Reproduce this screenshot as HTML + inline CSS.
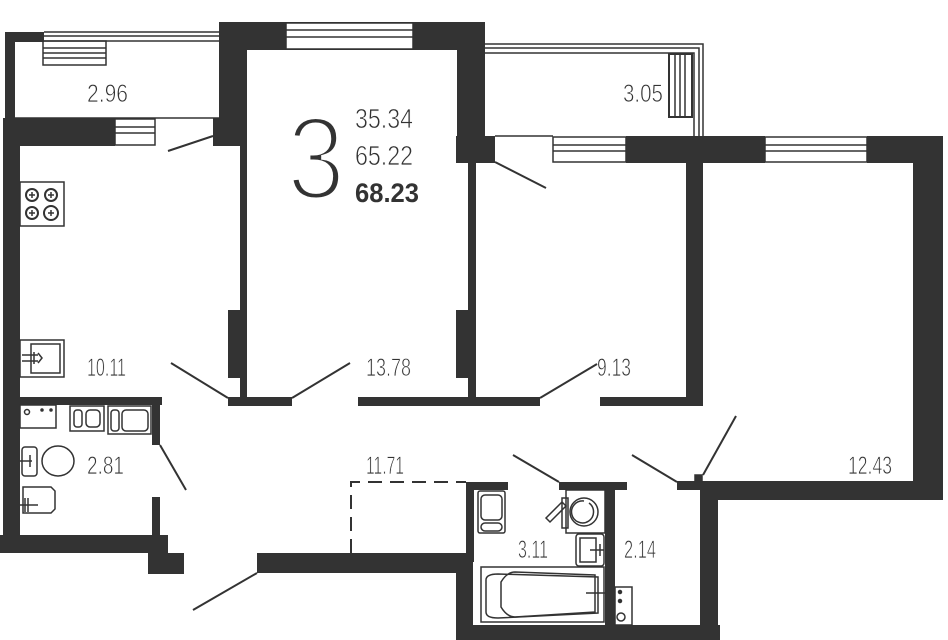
<!DOCTYPE html>
<html><head><meta charset="utf-8"><style>
html,body{margin:0;padding:0;background:#fff;}
svg{display:block;}
text{font-family:"Liberation Sans",sans-serif;fill:#333;}
.thin{stroke:#fff;stroke-width:0.7px;}
</style></head><body>
<svg width="948" height="640" viewBox="0 0 948 640" xmlns="http://www.w3.org/2000/svg">
<g fill="#333">
<rect x="5" y="32" width="39" height="10"/>
<rect x="5" y="32" width="10" height="88"/>
<rect x="219" y="22" width="266" height="28"/>
<rect x="219" y="22" width="28" height="124"/>
<rect x="457" y="22" width="28" height="140"/>
<rect x="213" y="118" width="34" height="28"/>
<rect x="3" y="118" width="112" height="28"/>
<rect x="3" y="118" width="17" height="435"/>
<rect x="240" y="146" width="7" height="260"/>
<rect x="228" y="310" width="19" height="68"/>
<rect x="468" y="146" width="8" height="260"/>
<rect x="456" y="310" width="20" height="68"/>
<rect x="456" y="136" width="39" height="27"/>
<rect x="626" y="136" width="139" height="27"/>
<rect x="867" y="136" width="76" height="27"/>
<rect x="913" y="136" width="30" height="364"/>
<rect x="686" y="163" width="17" height="242"/>
<rect x="228" y="397" width="64" height="9"/>
<rect x="358" y="397" width="182" height="9"/>
<rect x="600" y="397" width="103" height="9"/>
<rect x="700" y="481" width="243" height="19"/>
<rect x="677" y="481" width="23" height="9"/>
<rect x="700" y="481" width="18" height="159"/>
<rect x="15" y="397" width="147" height="8"/>
<rect x="152" y="405" width="8" height="40"/>
<rect x="152" y="497" width="8" height="40"/>
<rect x="0" y="535" width="168" height="18"/>
<rect x="148" y="553" width="36" height="21"/>
<rect x="257" y="553" width="216" height="20"/>
<rect x="456" y="553" width="17" height="87"/>
<rect x="466" y="482" width="8" height="80"/>
<rect x="466" y="482" width="42" height="8"/>
<rect x="559" y="482" width="68" height="8"/>
<rect x="605" y="482" width="10" height="158"/>
<rect x="456" y="625" width="264" height="15"/>
</g>
<g fill="#fff" stroke="#333" stroke-width="1.5">
<rect x="286" y="23" width="127" height="26"/>
<rect x="115" y="119" width="40" height="26"/>
<rect x="553" y="137" width="73" height="25"/>
<rect x="765" y="137" width="102" height="25"/>
</g>
<g stroke="#333" stroke-width="1.5" fill="none">
<line x1="286" y1="30" x2="413" y2="30"/><line x1="286" y1="37" x2="413" y2="37"/>
<line x1="115" y1="127" x2="155" y2="127"/><line x1="115" y1="133" x2="155" y2="133"/>
<line x1="553" y1="145" x2="626" y2="145"/><line x1="553" y1="151" x2="626" y2="151"/>
<line x1="765" y1="145" x2="867" y2="145"/><line x1="765" y1="151" x2="867" y2="151"/>
<line x1="44" y1="32" x2="219" y2="32"/><line x1="44" y1="36" x2="219" y2="36"/><line x1="44" y1="41" x2="219" y2="41"/>
<line x1="15" y1="118" x2="219" y2="118"/>
<rect x="43" y="41" width="63" height="24"/>
<line x1="43" y1="48" x2="106" y2="48"/><line x1="43" y1="53" x2="106" y2="53"/><line x1="43" y1="58" x2="106" y2="58"/>
<polyline points="485,44 703,44 703,136"/>
<polyline points="485,48 699,48 699,136"/>
<polyline points="485,53 694,53 694,136"/>
<rect x="669" y="54" width="23" height="63" stroke-width="2"/>
<line x1="675" y1="55" x2="675" y2="116"/><line x1="680" y1="55" x2="680" y2="116"/><line x1="685" y1="55" x2="685" y2="116"/>
<line x1="495" y1="136" x2="553" y2="136"/>
<line x1="213" y1="136" x2="168" y2="151" stroke-width="2"/>
<line x1="495" y1="162" x2="546" y2="188" stroke-width="2"/>
<line x1="228" y1="398" x2="171" y2="363" stroke-width="2"/>
<line x1="292" y1="398" x2="350" y2="363" stroke-width="2"/>
<line x1="540" y1="398" x2="597" y2="364" stroke-width="2"/>
<line x1="160" y1="445" x2="186" y2="490" stroke-width="2"/>
<line x1="257" y1="573" x2="193" y2="610" stroke-width="2"/>
<line x1="559" y1="482" x2="513" y2="455" stroke-width="2"/>
<line x1="677" y1="482" x2="632" y2="455" stroke-width="2"/>
<line x1="703" y1="475" x2="736" y2="416" stroke-width="2"/>
<rect x="695" y="475" width="7" height="7" fill="#333"/>
<polyline points="351,553 351,482 466,482" stroke-dasharray="14,8" stroke-width="2"/>
<rect x="20" y="182" width="44" height="44"/>
<circle cx="32" cy="195" r="6" stroke-width="2"/><circle cx="51" cy="195" r="6" stroke-width="2"/>
<circle cx="32" cy="213" r="6" stroke-width="2"/><circle cx="51" cy="213" r="7" stroke-width="2"/>
<path d="M29 195h6M32 192v6M48 195h6M51 192v6M29 213h6M32 210v6M48 213h6M51 210v6"/>
<rect x="20" y="340" width="44" height="37"/>
<rect x="31" y="344" width="29" height="29"/>
<path d="M22 355h16M22 361h16M34 352v12M38 353l4 5-4 5"/>
<rect x="20" y="405" width="36" height="23"/>
<circle cx="27" cy="412" r="2.5"/><circle cx="42" cy="410" r="1" fill="#333"/><circle cx="51" cy="410" r="1" fill="#333"/>
<rect x="70" y="406" width="34" height="25"/><rect x="74" y="410" width="8" height="17" rx="3"/><rect x="86" y="410" width="14" height="17" rx="4"/>
<rect x="108" y="406" width="43" height="28"/><rect x="111" y="410" width="8" height="21" rx="3"/><rect x="122" y="410" width="26" height="21" rx="4"/>
<rect x="22" y="447" width="15" height="29" rx="3"/>
<ellipse cx="58" cy="461" rx="16" ry="15"/>
<path d="M18 461h14M30 455v12"/>
<path d="M23 487h28l4 4v18l-4 4H23z"/>
<path d="M20 505h18M25 498v14M28 498v14"/>
<rect x="478" y="491" width="27" height="42" rx="2"/>
<rect x="481" y="495" width="21" height="25" rx="4"/>
<rect x="481" y="523" width="21" height="8" rx="4"/>
<rect x="481" y="567" width="123" height="55"/>
<path d="M498 574l100 3v36l-100 5q-12 0-12-6v-32q0-6 12-6z"/>
<path d="M515 572l80 3v37l-80 5q-8 0-14-10v-25q6-10 14-10z"/>
<path d="M586 593h20"/>
<rect x="566" y="490" width="39" height="43"/>
<circle cx="584" cy="512" r="14"/>
<path d="M584 501a11 11 0 1 0 5 2"/>
<rect x="562" y="498" width="6" height="30"/>
<path d="M546 518l16-16 4 4-16 16z"/>
<rect x="576" y="534" width="28" height="32" rx="3"/>
<rect x="580" y="538" width="16" height="24"/>
<path d="M590 550h14M600 544v12"/>
<rect x="615" y="587" width="17" height="38"/>
<circle cx="620" cy="592" r="1.5" fill="#333"/><circle cx="620" cy="601" r="1.5" fill="#333"/><circle cx="621" cy="617" r="4"/>
</g>
<text x="287" y="199" font-size="118" textLength="58" lengthAdjust="spacingAndGlyphs" style="stroke:#fff;stroke-width:5px">3</text>
<text class="thin" x="355" y="128" font-size="28" textLength="58" lengthAdjust="spacingAndGlyphs">35.34</text>
<text class="thin" x="355" y="165" font-size="28" textLength="58" lengthAdjust="spacingAndGlyphs">65.22</text>
<text x="355" y="202" font-size="27" font-weight="bold" textLength="64" lengthAdjust="spacingAndGlyphs">68.23</text>
<g font-size="25" class="thin">
<text x="87" y="102" textLength="41" lengthAdjust="spacingAndGlyphs">2.96</text>
<text x="623" y="102" textLength="40" lengthAdjust="spacingAndGlyphs">3.05</text>
<text x="87" y="376" textLength="39" lengthAdjust="spacingAndGlyphs">10.11</text>
<text x="366" y="376" textLength="45" lengthAdjust="spacingAndGlyphs">13.78</text>
<text x="597" y="376" textLength="34" lengthAdjust="spacingAndGlyphs">9.13</text>
<text x="87" y="474" textLength="37" lengthAdjust="spacingAndGlyphs">2.81</text>
<text x="366" y="474" textLength="38" lengthAdjust="spacingAndGlyphs">11.71</text>
<text x="848" y="474" textLength="44" lengthAdjust="spacingAndGlyphs">12.43</text>
<text x="518" y="558" textLength="30" lengthAdjust="spacingAndGlyphs">3.11</text>
<text x="624" y="558" textLength="32" lengthAdjust="spacingAndGlyphs">2.14</text>
</g>
</svg>
</body></html>
